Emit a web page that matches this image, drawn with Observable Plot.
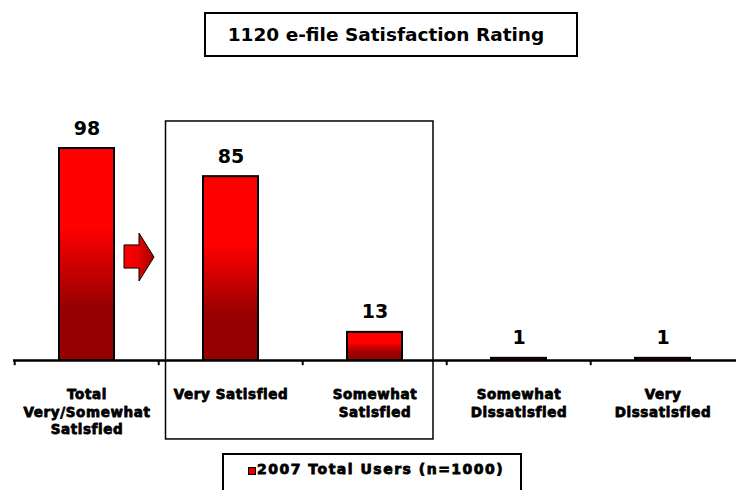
<!DOCTYPE html>
<html><head><meta charset="utf-8">
<script src="https://cdn.jsdelivr.net/npm/d3@7"></script>
<script src="https://cdn.jsdelivr.net/npm/@observablehq/plot@0.6"></script>
<style>
body{margin:0;background:#fff;font-family:"DejaVu Sans",sans-serif;}
#wrap{position:relative;width:736px;height:490px;overflow:hidden;}
#title{position:relative;height:60px;}
#title .box{position:absolute;left:204px;top:12px;width:370px;height:41px;border:2px solid #000;
  display:flex;align-items:center;justify-content:center;font-weight:bold;font-size:18.5px;color:#000;}
#title .box span{position:relative;left:-5px;}
#chart{height:390px;}
#legend{position:relative;height:40px;}
#legend .box{position:absolute;left:222px;top:3px;width:296px;height:40px;border:2px solid #000;
  font-weight:bold;font-size:14px;color:#000;}
#legend .sw{position:absolute;left:24px;top:12px;width:6px;height:6px;background:#e00000;border:1px solid #000;}
#legend .lab{position:absolute;left:33px;top:6px;white-space:nowrap;letter-spacing:1.5px;
  -webkit-text-stroke:0.8px #000;}
</style></head>
<body>
<div id="wrap">
  <div id="title"><div class="box"><span></span></div></div>
  <div id="chart"></div>
  <div id="legend"><div class="box"><span class="sw"></span><span class="lab"></span></div></div>
</div>
<script>
const chartTitle = "1120 e-file Satisfaction Rating";
const seriesName = "2007 Total Users (n=1000)";
const categories = ["Total\nVery/Somewhat\nSatisfied", "Very Satisfied", "Somewhat\nSatisfied", "Somewhat\nDissatisfied", "Very\nDissatisfied"];
const values = [98, 85, 13, 1, 1];

const data = categories.map((c, i) => ({category: c, value: values[i]}));

document.querySelector("#title .box span").textContent = chartTitle;
document.querySelector("#legend .lab").textContent = seriesName;

const W = 736, H = 390, ML = 13, MR = 0;
const step = (W - ML - MR) / categories.length;

const plot = Plot.plot({
  width: W, height: H,
  marginLeft: ML, marginRight: MR, marginTop: 83.7, marginBottom: 90,
  x: {domain: categories, paddingInner: 0.62, paddingOuter: 0.31, axis: null},
  y: {domain: [0, 100], axis: null},
  style: {fontFamily: "DejaVu Sans", overflow: "visible", background: "#fff"},
  marks: [
    Plot.barY(data, {x: "category", y: "value", fill: "url(#barGrad)", stroke: "#000", strokeWidth: 2}),
    Plot.ruleY([0], {stroke: "#000", strokeWidth: 2.5}),
    Plot.ruleX(categories, {x: d => d, y1: 0, y2: -2.4, dx: -step / 2, stroke: "#000", strokeWidth: 2}),
    Plot.text(data, {x: "category", y: "value", text: d => String(d.value), dy: -20, lineAnchor: "middle",
      fontSize: 19, fontWeight: "bold", fill: "#000"}),
    Plot.text(data, {x: "category", y: 0, text: "category", lineAnchor: "top", dy: 26,
      fontSize: 13.5, fontWeight: "bold", lineHeight: 1.3, fill: "#000",
      stroke: "#000", strokeWidth: 0.8, className: "catlab"})
  ]
});
document.getElementById("chart").appendChild(plot);

const svg = d3.select(plot);
svg.selectAll(".catlab text").attr("letter-spacing", "0.6px");

// gradients and decorations derived from the plot's scales
const defs = svg.insert("defs", ":first-child");
const g1 = defs.append("linearGradient").attr("id", "barGrad").attr("x1", 0).attr("y1", 0).attr("x2", 0).attr("y2", 1);
[[0, "#ff0000"], [0.37, "#ff0000"], [0.76, "#960000"], [1, "#960000"]].forEach(([o, c]) =>
  g1.append("stop").attr("offset", o).attr("stop-color", c));
const g2 = defs.append("linearGradient").attr("id", "arrowGrad").attr("x1", 0).attr("y1", 0).attr("x2", 1).attr("y2", 0);
[[0, "#ff0000"], [0.45, "#ee0000"], [1, "#a00000"]].forEach(([o, c]) =>
  g2.append("stop").attr("offset", o).attr("stop-color", c));

const xs = plot.scale("x"), ys = plot.scale("y");
const bw = xs.bandwidth;
const x0 = xs.apply(categories[0]);
const x1 = xs.apply(categories[1]);
const x2 = xs.apply(categories[2]);

// box around the two "satisfied" categories
svg.append("rect")
  .attr("x", x1 - 37.5).attr("y", ys.apply(110.5))
  .attr("width", (x2 + bw + 31) - (x1 - 37.5))
  .attr("height", ys.apply(-36.5) - ys.apply(110.5))
  .attr("fill", "none").attr("stroke", "#000").attr("stroke-width", 1.5);

// arrow
const aL = x0 + bw + 10, aM = aL + 15, aR = aL + 30;
const pts = [
  [aL, ys.apply(53.2)], [aM, ys.apply(53.2)], [aM, ys.apply(58.7)], [aR, ys.apply(47.6)],
  [aM, ys.apply(36.5)], [aM, ys.apply(42.5)], [aL, ys.apply(42.5)]
];
svg.append("polygon").attr("points", pts.map(p => p.join(",")).join(" "))
  .attr("fill", "url(#arrowGrad)").attr("stroke", "#000").attr("stroke-width", 1);
</script>
</body></html>
